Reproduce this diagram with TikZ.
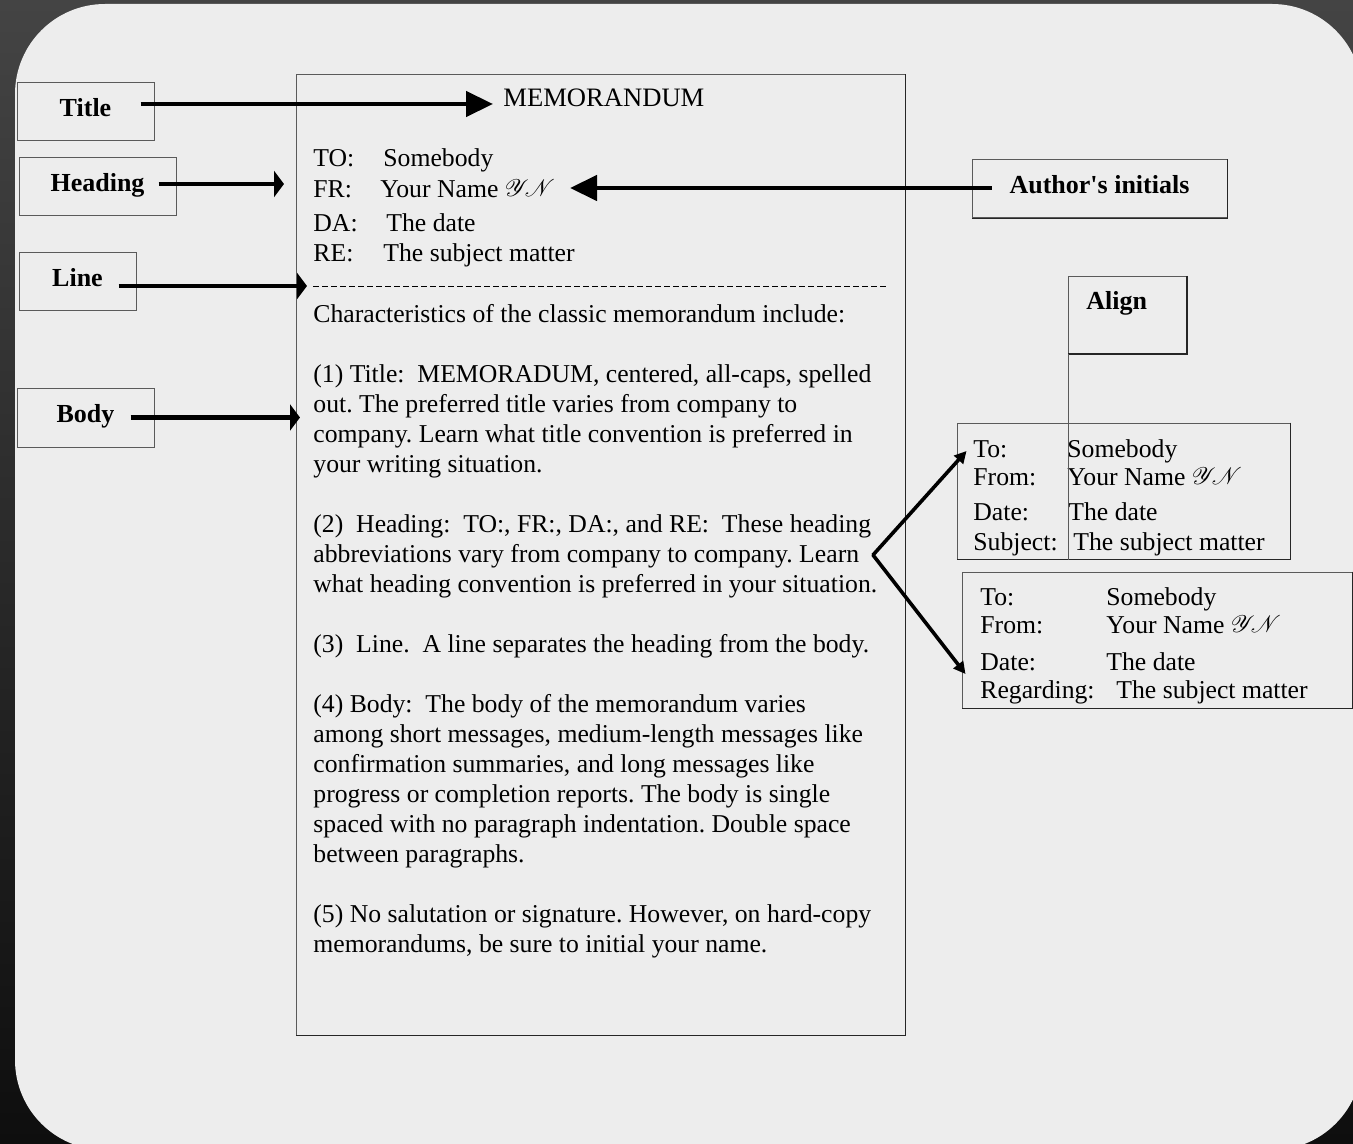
\documentclass[tikz,border=0pt]{standalone}
\usepackage{fontspec}
\setmainfont{Liberation Serif}
\usepackage{mathrsfs}
\usetikzlibrary{arrows.meta}
\frenchspacing

\definecolor{panel}{HTML}{EDEDED}
\definecolor{bgtop}{HTML}{444444}
\definecolor{bgbot}{HTML}{0E0E0E}
\definecolor{rule}{HTML}{5A5A5A}

% handwritten-looking initials
\newcommand{\initialsYN}{\raisebox{0.5pt}{$\mathscr{Y}\!\mathscr{N}$}}

\tikzset{
  txt/.style={anchor=base west, inner sep=0pt, font=\fontsize{12.85}{15}\selectfont},
  frame/.style={draw=rule, line width=0.5pt, inner sep=0pt},
  labelbox/.style={frame, font=\bfseries\fontsize{13}{15}\selectfont,
    text height=8.5pt, text depth=3.5pt},
  edge/.style={draw=black!85, line width=0.6pt},
  bigarrow/.style={line width=2.2pt, -{Triangle[length=13.5pt,width=12.5pt]}},
  flatarrow/.style={line width=2.2pt, -{Triangle[length=5pt,width=13pt]}},
  slimarrow/.style={line width=1.8pt, -{Triangle[length=6pt,width=6pt]}},
}

\begin{document}
\begin{tikzpicture}[x=0.5pt,y=-0.5pt]
\useasboundingbox (0,0) rectangle (1353,1144);

% backdrop and light panel
\shade[top color=bgtop, bottom color=bgbot] (0,0) rectangle (1353,1144);
\fill[panel, rounded corners=45pt] (15,4) rectangle (1362,1150);

% ---- left-hand labels ----
\node[labelbox, minimum width=68.5pt, minimum height=29pt] (titlebox) at (85.5,112) {Title};
\node[labelbox, minimum width=78.5pt, minimum height=29pt] (headbox) at (97.5,187) {Heading};
\node[labelbox, minimum width=58.5pt, minimum height=29pt] (linebox) at (77.5,282) {Line};
\node[labelbox, minimum width=68.5pt, minimum height=29.5pt] (bodybox) at (85.5,417.5) {Body};

% ---- right-hand labels ----
\node[labelbox, minimum width=127.5pt, minimum height=29pt] (authbox) at (1099.5,189) {Author\textquotesingle s initials};
\node[frame, minimum width=59pt, minimum height=38.5pt, anchor=north west] (alignbox) at (1068,276) {};
\node[txt, font=\bfseries\fontsize{13}{15}\selectfont] (aligntext) at (1086,310) {Align};

% ---- the memorandum page ----
\node[frame, minimum width=304.5pt, minimum height=480pt] (memo) at (600.5,555) {};
\node[txt, font=\fontsize{13.3}{15}\selectfont] (memtitle) at (503,107) {MEMORANDUM};

\node[txt] (to)  at (313,167) {TO:};
\node[txt] (tov) at (383,167) {Somebody};
\node[txt] (fr)  at (313,198) {FR:};
\node[txt] (frv) at (380,198) {Your Name \initialsYN};
\node[txt] (da)  at (313,232) {DA:};
\node[txt] (dav) at (386,232) {The date};
\node[txt] (re)  at (313,262) {RE:};
\node[txt] (rev) at (383,262) {The subject matter};

\coordinate (sepL) at (313,287);
\coordinate (sepR) at (888,287);
\draw[line width=0.5pt, dash pattern=on 3pt off 1.5pt] (sepL) -- (sepR);

\foreach \k/\t [count=\i] in {
  0/{Characteristics of the classic memorandum include:},
  2/{(1) Title:\ \ MEMORADUM, centered, all-caps, spelled},
  3/{out. The preferred title varies from company to},
  4/{company. Learn what title convention is preferred in},
  5/{your writing situation.},
  7/{(2)\ \ Heading:\ \ TO:, FR:, DA:, and RE:\ \ These heading},
  8/{abbreviations vary from company to company. Learn},
  9/{what heading convention is preferred in your situation.},
  11/{(3)\ \ Line.\ \ A line separates the heading from the body.},
  13/{(4) Body:\ \ The body of the memorandum varies},
  14/{among short messages, medium-length messages like},
  15/{confirmation summaries, and long messages like},
  16/{progress or completion reports. The body is single},
  17/{spaced with no paragraph indentation. Double space},
  18/{between paragraphs.},
  20/{(5) No salutation or signature. However, on hard-copy},
  21/{memorandums, be sure to initial your name.}}
  \node[txt] (body\i) at (313,322+30*\k) {\t};

% ---- alternative heading layouts ----
\node[frame, minimum width=166.5pt, minimum height=68pt] (box1) at (1123.5,491) {};
\node[txt] (a1) at (973,457) {To:};
\node[txt] (a1v) at (1067,457) {Somebody};
\node[txt] (a2) at (973,485) {From:};
\node[txt] (a2v) at (1067,485) {Your Name \initialsYN};
\node[txt] (a3) at (973,520) {Date:};
\node[txt] (a3v) at (1068,520) {The date};
\node[txt] (a4) at (973,550) {Subject:};
\node[txt] (a4v) at (1073,550) {The subject matter};

\node[frame, minimum width=195pt, minimum height=68pt] (box2) at (1157,640) {};
\node[txt] (b1) at (980,605) {To:};
\node[txt] (b1v) at (1106,605) {Somebody};
\node[txt] (b2) at (980,633) {From:};
\node[txt] (b2v) at (1106,633) {Your Name \initialsYN};
\node[txt] (b3) at (980,670) {Date:};
\node[txt] (b3v) at (1106,670) {The date};
\node[txt] (b4) at (980,698) {Regarding:};
\node[txt] (b4v) at (1116,698) {The subject matter};

% darker right and bottom edges
\foreach \n in {memo,box1,box2,authbox,alignbox}
  \draw[edge] (\n.north east) -- (\n.south east) -- (\n.south west);

% alignment guide
\draw[draw=rule, line width=0.5pt] (alignbox.south west) -- (alignbox.south west |- box1.south);

% ---- pointers ----
\coordinate (titletip) at (493,104);
\coordinate (headtip)  at (284,184);
\coordinate (linetip)  at (307,286);
\coordinate (bodytip)  at (300,417.5);
\coordinate (authtip)  at (570,188);
\coordinate (apex)     at (873,555);

\draw[bigarrow]  ([xshift=-7pt,yshift=4pt]titlebox.east) -- (titletip);
\draw[flatarrow] ([xshift=-9pt,yshift=1.5pt]headbox.east) -- (headtip);
\draw[flatarrow] ([xshift=-9pt,yshift=-2pt]linebox.east) -- (linetip);
\draw[flatarrow] ([xshift=-12pt]bodybox.east) -- (bodytip);
\draw[bigarrow]  ([xshift=10pt,yshift=0.5pt]authbox.west) -- (authtip);
\draw[slimarrow] (apex) -- ([xshift=5pt,yshift=20pt]box1.west);
\draw[slimarrow, line cap=round] (apex) -- ([xshift=2pt,yshift=-17pt]box2.west);
\end{tikzpicture}
\end{document}
